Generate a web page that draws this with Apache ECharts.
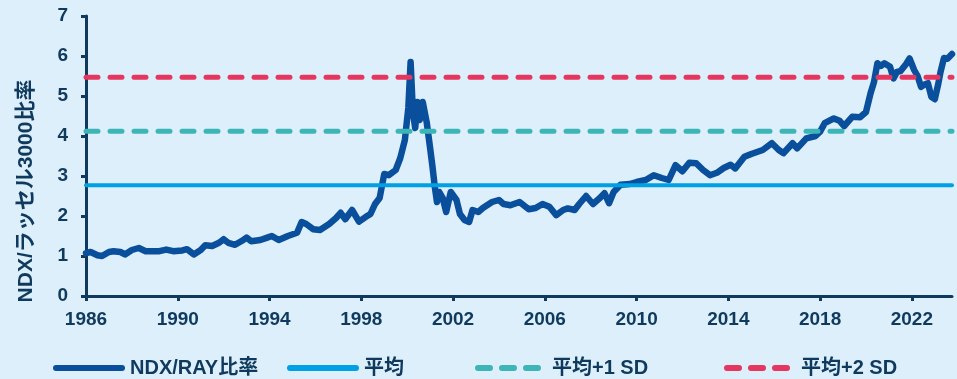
<!DOCTYPE html>
<html>
<head>
<meta charset="utf-8">
<script src="https://cdn.jsdelivr.net/npm/echarts@6/dist/echarts.min.js"></script>
<style>
  html, body { margin: 0; padding: 0; background: #ddeffb; }
  #main { width: 957px; height: 379px; }
</style>
</head>
<body>
<div id="main"></div>
<script>
// 年（小数）と NDX/RAY 比率
var years = [
  1986.0, 1986.2, 1986.5, 1986.7, 1987.0, 1987.2, 1987.5, 1987.7, 1988.0, 1988.3,
  1988.6, 1988.9, 1989.2, 1989.5, 1989.8, 1990.2, 1990.4, 1990.7, 1991.0, 1991.2,
  1991.5, 1991.8, 1992.0, 1992.2, 1992.5, 1992.8, 1993.0, 1993.2, 1993.6, 1993.9,
  1994.1, 1994.4, 1994.8, 1995.2, 1995.4, 1995.6, 1995.9, 1996.2, 1996.6, 1996.9,
  1997.1, 1997.3, 1997.6, 1997.9, 1998.2, 1998.4, 1998.6, 1998.8, 1999.0, 1999.2,
  1999.5, 1999.7, 1999.9, 2000.05, 2000.15, 2000.25, 2000.35, 2000.45, 2000.55, 2000.68,
  2000.85, 2001.0, 2001.1, 2001.2, 2001.3, 2001.4, 2001.55, 2001.7, 2001.9, 2002.15,
  2002.3, 2002.5, 2002.7, 2002.85, 2003.1, 2003.3, 2003.7, 2004.0, 2004.2, 2004.5,
  2004.9, 2005.3, 2005.6, 2005.9, 2006.2, 2006.5, 2006.8, 2007.0, 2007.3, 2007.5,
  2007.8, 2008.1, 2008.4, 2008.6, 2008.8, 2009.0, 2009.3, 2009.7, 2010.0, 2010.4,
  2010.75, 2011.1, 2011.4, 2011.7, 2012.0, 2012.3, 2012.6, 2012.9, 2013.2, 2013.5,
  2013.8, 2014.1, 2014.3, 2014.7, 2015.0, 2015.5, 2015.9, 2016.2, 2016.4, 2016.8,
  2017.0, 2017.4, 2017.8, 2018.0, 2018.2, 2018.6, 2018.85, 2019.05, 2019.4, 2019.75,
  2020.0, 2020.2, 2020.35, 2020.5, 2020.65, 2020.8, 2021.05, 2021.2, 2021.35, 2021.5,
  2021.75, 2021.9, 2022.1, 2022.25, 2022.4, 2022.6, 2022.7, 2022.85, 2023.0, 2023.15,
  2023.25, 2023.4, 2023.55, 2023.75
];
var ratio = [
  1.07, 1.10, 1.02, 1.00, 1.10, 1.12, 1.10, 1.04, 1.15, 1.20,
  1.12, 1.12, 1.12, 1.16, 1.12, 1.14, 1.17, 1.04, 1.15, 1.27,
  1.25, 1.33, 1.42, 1.33, 1.28, 1.38, 1.46, 1.37, 1.40, 1.46,
  1.50, 1.40, 1.50, 1.58, 1.85, 1.80, 1.67, 1.65, 1.80, 1.95,
  2.08, 1.92, 2.15, 1.86, 1.98, 2.05, 2.30, 2.45, 3.05, 3.02,
  3.15, 3.45, 3.90, 4.70, 5.85, 4.60, 4.20, 4.85, 4.40, 4.85,
  4.35, 3.70, 3.25, 2.75, 2.35, 2.60, 2.45, 2.10, 2.60, 2.40,
  2.05, 1.90, 1.85, 2.15, 2.10, 2.20, 2.35, 2.40, 2.30, 2.27,
  2.35, 2.17, 2.20, 2.30, 2.23, 2.02, 2.15, 2.19, 2.15, 2.30,
  2.50, 2.30, 2.45, 2.57, 2.32, 2.60, 2.78, 2.80, 2.85, 2.90,
  3.02, 2.95, 2.90, 3.27, 3.12, 3.33, 3.32, 3.15, 3.02, 3.08,
  3.20, 3.28, 3.19, 3.48, 3.55, 3.65, 3.82, 3.65, 3.57, 3.82,
  3.69, 3.94, 4.00, 4.11, 4.32, 4.44, 4.38, 4.25, 4.48, 4.47,
  4.60, 5.07, 5.35, 5.82, 5.75, 5.82, 5.73, 5.44, 5.60, 5.62,
  5.80, 5.94, 5.65, 5.50, 5.23, 5.30, 5.32, 4.98, 4.92, 5.30,
  5.60, 5.95, 5.93, 6.05
];
var mean = 2.77;
var plus1sd = 4.12;
var plus2sd = 5.47;
var startYear = 1986;
var endYear = 2023.75;
var tickYears = [1986, 1990, 1994, 1998, 2002, 2006, 2010, 2014, 2018, 2022];

var names = ['NDX/RAY比率', '平均', '平均+1 SD', '平均+2 SD'];
var colors = ['#0a4f9c', '#00a0e4', '#3db5b7', '#e5365f'];

var txt = '#0f3a5e';
var font = '"Liberation Sans", Arial, "Noto Sans CJK JP", sans-serif';

var chart = echarts.init(document.getElementById('main'));

function hline(name, v, color, dashed) {
  return {
    name: name,
    type: 'line',
    symbol: 'none',
    z: 3,
    silent: true,
    itemStyle: { color: color },
    data: [[0, v], [endYear - startYear, v]],
    lineStyle: {
      color: color,
      width: dashed ? 5 : 4,
      type: dashed ? [12, 12] : 'solid',
      cap: 'round'
    }
  };
}

var offs = tickYears.map(function (y) { return y - startYear; });

function legendAt(name, left, dashed) {
  return {
    data: [name],
    left: left,
    top: 353,
    itemWidth: 66,
    itemHeight: 14,
    itemGap: 0,
    selectedMode: false,
    itemStyle: { opacity: 0 },
    lineStyle: { width: 6, cap: 'round', type: dashed ? [12, 12] : 'solid' },
    textStyle: { color: txt, fontSize: 20, fontWeight: 'bold', fontFamily: font, padding: [0, 0, 0, 3] }
  };
}

var option = {
  backgroundColor: '#ddeffb',
  animation: false,
  legend: [
    legendAt(names[0], 48, false),
    legendAt(names[1], 282, false),
    legendAt(names[2], 470, true),
    legendAt(names[3], 719, true)
  ],
  graphic: [{
    type: 'text',
    x: 26,
    y: 191,
    rotation: Math.PI / 2,
    style: {
      text: 'NDX/ラッセル3000比率',
      fill: txt,
      font: 'bold 21px ' + font,
      align: 'center',
      verticalAlign: 'middle'
    }
  }],
  grid: { left: 86, right: 5, top: 16, bottom: 83 },
  xAxis: {
    type: 'value',
    min: 0,
    max: endYear - startYear,
    interval: 4,
    splitLine: { show: false },
    axisLine: { lineStyle: { color: txt, width: 3 } },
    axisTick: { length: 5, lineStyle: { color: txt, width: 3 }, customValues: offs },
    axisLabel: {
      customValues: offs,
      formatter: function (v) { return String(startYear + v); },
      color: txt, fontSize: 19, fontWeight: 'bold', fontFamily: font, margin: 14
    }
  },
  yAxis: {
    type: 'value',
    min: 0,
    max: 7,
    interval: 1,
    splitLine: { show: false },
    axisLine: { show: true, lineStyle: { color: txt, width: 3 } },
    axisTick: { show: true, length: 5, lineStyle: { color: txt, width: 3 } },
    axisLabel: { color: txt, fontSize: 19, fontWeight: 'bold', fontFamily: font, margin: 18 }
  },
  series: [
    {
      name: names[0],
      type: 'line',
      symbol: 'none',
      z: 2,
      itemStyle: { color: colors[0] },
      data: years.map(function (y, i) { return [y - startYear, ratio[i]]; }),
      lineStyle: { color: colors[0], width: 6.5, join: 'round', cap: 'round' }
    },
    hline(names[1], mean, colors[1], false),
    hline(names[2], plus1sd, colors[2], true),
    hline(names[3], plus2sd, colors[3], true)
  ]
};

chart.setOption(option);
</script>
</body>
</html>
